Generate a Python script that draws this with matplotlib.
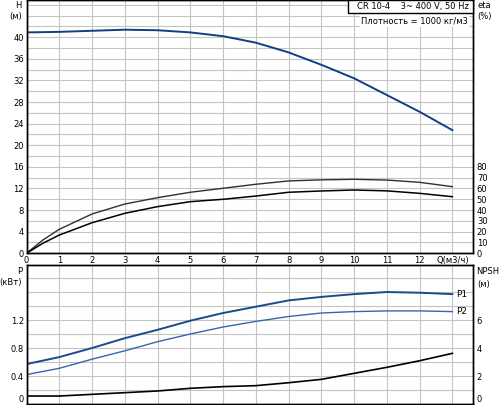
import matplotlib.pyplot as plt
import numpy as np
from matplotlib.patches import Rectangle

# данные
q = [0, 1, 2, 3, 4, 5, 6, 7, 8, 9, 10, 11, 12, 13]
head = [40.9, 41.0, 41.2, 41.4, 41.3, 40.9, 40.2, 39.0, 37.2, 34.9, 32.4, 29.3, 26.2, 22.8]

q_eta = [0, 0.5, 1, 2, 3, 4, 5, 6, 7, 8, 9, 10, 11, 12, 13]
eta_pump = [0, 12.3, 22.2, 36.4, 45.6, 51.5, 56.5, 60.2, 63.9, 67.0, 68.0, 68.5, 67.8, 65.7, 61.7]
eta_total = [0, 9.3, 16.9, 28.3, 37.0, 43.2, 47.8, 50.0, 53.0, 56.5, 57.7, 58.6, 57.8, 55.5, 52.4]

p1 = [0.57, 0.67, 0.80, 0.94, 1.06, 1.19, 1.30, 1.39, 1.48, 1.53, 1.57, 1.60, 1.59, 1.57]
p2 = [0.42, 0.51, 0.64, 0.76, 0.89, 1.00, 1.10, 1.18, 1.25, 1.30, 1.32, 1.33, 1.33, 1.32]
npsh = [0.57, 0.57, 0.69, 0.81, 0.93, 1.12, 1.24, 1.31, 1.52, 1.76, 2.19, 2.62, 3.09, 3.62]

xtick_labels = ['0', '1', '2', '3', '4', '5', '6', '7', '8', '9', '10', '11', '12', 'Q(м3/ч)']

W, H = 500, 405
fs = 6
grid_c = '#c4c4c4'
blue_h = '#123f84'
blue_p1 = '#1a4b8e'
blue_p2 = '#3568aa'

fig = plt.figure(figsize=(W / 100, H / 100), dpi=100)
fig.patch.set_facecolor('white')

def px(x, y):
  return x / W, 1 - y / H

xmax = 13.62

#--- верхний график: напор и КПД
ax1 = fig.add_axes([26.5 / W, (H - 253.3) / H, (472.7 - 26.5) / W, 253.3 / H])
ax1.plot(q, head, color=blue_h, lw=1.4)
ax1.set_xlim(0, xmax)
ax1.set_ylim(0, 46.9)
ax1.set_yticks(np.arange(0, 41, 4))
ax1.set_yticks(np.arange(0, 47, 2), minor=True)
ax1.set_xticks(np.arange(0, 14, 1))
ax1.set_xticklabels(xtick_labels)
ax1.grid(True, which='both', color=grid_c, lw=0.8)
ax1.tick_params(which='both', length=0, labelsize=fs, pad=2)
ax1.set_axisbelow(True)

ax1r = ax1.twinx()
ax1r.plot(q_eta, eta_pump, color='#303030', lw=1.0)
ax1r.plot(q_eta, eta_total, color='black', lw=1.1)
ax1r.set_ylim(0, 46.9 * 5)
ax1r.set_yticks(np.arange(0, 81, 10))
ax1r.tick_params(length=0, labelsize=fs, pad=3)

#--- нижний график: мощность и NPSH
ax2 = fig.add_axes([26.5 / W, (H - 404) / H, (472.7 - 26.5) / W, (404 - 265) / H])
ax2.plot(q, p1, color=blue_p1, lw=1.4)
ax2.plot(q, p2, color=blue_p2, lw=1.0)
ax2.set_xlim(0, xmax)
ax2.set_ylim(0, 1.986)
ax2.set_yticks([0, 0.4, 0.8, 1.2])
ax2.set_yticklabels(['0', '0.4', '0.8', '1.2'])
ax2.set_yticks(np.arange(0, 2.0, 0.2), minor=True)
ax2.set_xticks(np.arange(0, 14, 1))
ax2.set_xticklabels([])
ax2.grid(True, which='both', color=grid_c, lw=0.8)
ax2.tick_params(which='both', length=0, labelsize=fs, pad=2)
ax2.set_axisbelow(True)

ax2r = ax2.twinx()
ax2r.plot(q, npsh, color='black', lw=1.2)
ax2r.set_ylim(0, 1.986 * 5)
ax2r.set_yticks([0, 2, 4, 6])
ax2r.set_yticklabels(['0', '2', '4', '6'])
ax2r.tick_params(length=0, labelsize=fs, pad=3)

# нулевые подписи внизу приподнять, чтобы не обрезались
ax2.get_yticklabels()[0].set_verticalalignment('bottom')
ax2r.get_yticklabels()[0].set_verticalalignment('bottom')

for a in (ax1, ax1r, ax2, ax2r):
  for s in a.spines.values():
    s.set_color('black')
    s.set_linewidth(1.0)

ax2r.text(q[-1] + 0.1, p1[-1] * 5, 'P1', fontsize=fs + 0.5, va='center', ha='left')
ax2r.text(q[-1] + 0.1, p2[-1] * 5, 'P2', fontsize=fs + 0.5, va='center', ha='left')

# подписи осей
fig.text(*px(22, 6), 'H', fontsize=fs, ha='right', va='center')
fig.text(*px(22, 17), '(м)', fontsize=fs, ha='right', va='center')
fig.text(*px(477, 6), 'eta', fontsize=fs, ha='left', va='center')
fig.text(*px(477, 17), '(%)', fontsize=fs, ha='left', va='center')
fig.text(*px(22, 271), 'P', fontsize=fs, ha='right', va='center')
fig.text(*px(22, 283), '(кВт)', fontsize=fs, ha='right', va='center')
fig.text(*px(476, 272), 'NPSH', fontsize=fs, ha='left', va='center')
fig.text(*px(477, 284), '(м)', fontsize=fs, ha='left', va='center')

# рамка с описанием насоса
fig.patches.append(Rectangle(px(348, 13.3), (472.7 - 348) / W, 13.3 / H,
                             transform=fig.transFigure, facecolor='white',
                             edgecolor='black', lw=1.0, zorder=5))
fig.text(*px(413, 7), 'CR 10-4    3~ 400 V, 50 Hz', fontsize=fs, ha='center', va='center', zorder=6)
fig.text(*px(468, 21), 'Плотность = 1000 кг/м3', fontsize=fs, ha='right', va='center',
         bbox=dict(facecolor='white', edgecolor='none', pad=1), zorder=6)

plt.savefig('out.png', dpi=100)
